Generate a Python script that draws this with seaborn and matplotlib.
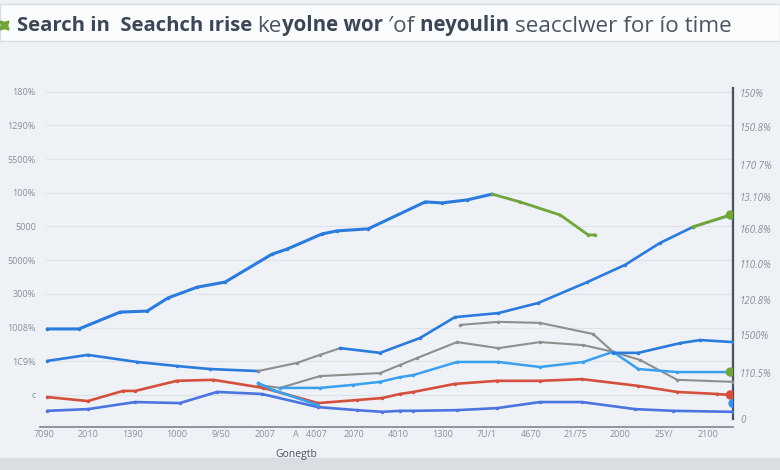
import matplotlib
matplotlib.use("Agg")
import matplotlib.pyplot as plt
import seaborn as sns

sns.set_style("white")
plt.rcParams["font.family"] = ["Open Sans", "DejaVu Sans"]

# ---- data ----
x_labels = ["7090", "2010", "1390", "1000", "9/50", "2007", "A   4007", "2070",
            "4010", "1300", "7U/1", "4670", "21/75", "2000", "25Y/", "2100"]
left_labels = ["c", "1C9%", "1008%", "300%", "5000%", "5000", "100%", "5500%", "1290%", "180%"]
right_ticks = [-0.71, 0.65, 1.78, 2.82, 3.89, 4.93, 5.88, 6.82, 7.95, 8.96]
right_labels = ["0", "110.5%", "1500%", "120.8%", "110.0%", "160.8%", "13.10%", "170 7%", "150.8%", "150%"]

main_x = [0.07, 0.79, 1.72, 2.33, 2.80, 3.46, 4.09, 5.15, 5.49, 6.28, 6.62, 7.32, 8.61, 8.99, 9.56, 10.12]
main_y = [1.96, 1.96, 2.46, 2.49, 2.88, 3.20, 3.35, 4.18, 4.33, 4.78, 4.87, 4.93, 5.73, 5.70, 5.79, 5.96]
green1_x = [10.12, 10.75, 11.66, 12.29, 12.45]
green1_y = [5.96, 5.73, 5.34, 4.75, 4.75]

blueA_x = [0.07, 0.99, 2.10, 3.00, 3.75, 4.83]
blueA_y = [1.01, 1.19, 0.98, 0.86, 0.77, 0.71]
gray1_x = [4.83, 5.71, 6.23, 6.69]
gray1_y = [0.71, 0.95, 1.19, 1.39]
blueB_x = [6.69, 7.59, 8.49, 9.28, 10.26, 11.16, 12.27, 13.12, 13.91, 14.66]
blueB_y = [1.39, 1.25, 1.69, 2.31, 2.43, 2.73, 3.35, 3.86, 4.51, 4.99]
green2_x = [14.66, 15.50]
green2_y = [4.99, 5.34]

gray2_x = [4.83, 5.33, 6.23, 7.59, 8.04, 8.43, 9.33, 10.26, 11.20, 12.18, 12.85]
gray2_y = [0.30, 0.21, 0.56, 0.65, 0.89, 1.10, 1.57, 1.39, 1.57, 1.48, 1.28]
gray3_x = [9.40, 10.26, 11.20, 12.40, 12.85, 13.46, 14.30, 15.56]
gray3_y = [2.08, 2.17, 2.14, 1.81, 1.28, 1.04, 0.45, 0.39]

light_x = [5.33, 6.23, 6.98, 7.59, 8.04, 8.34, 9.33, 10.26, 11.20, 12.18, 12.85, 13.42, 14.30, 15.43]
light_y = [0.21, 0.21, 0.30, 0.39, 0.53, 0.59, 0.98, 0.98, 0.83, 0.98, 1.28, 0.77, 0.68, 0.68]
blueC_x = [12.85, 13.42, 14.37, 14.82, 15.56]
blueC_y = [1.25, 1.25, 1.54, 1.63, 1.57]

red_x = [0.07, 0.99, 1.78, 2.06, 3.00, 3.82, 4.95, 6.19, 7.07, 7.64, 8.04, 8.34, 9.28,
         10.23, 11.20, 12.15, 13.42, 14.30, 15.20, 15.50]
red_y = [-0.06, -0.18, 0.12, 0.12, 0.42, 0.45, 0.21, -0.24, -0.15, -0.09, 0.03, 0.09, 0.33,
         0.42, 0.42, 0.47, 0.27, 0.09, 0.03, 0.0]

low_x = [0.07, 0.99, 2.06, 3.07, 3.91, 4.92, 6.19, 7.07, 7.64, 8.04, 8.34, 9.33, 10.23,
         11.20, 12.15, 13.35, 14.21, 15.56]
low_y = [-0.47, -0.42, -0.21, -0.24, 0.09, 0.03, -0.36, -0.45, -0.50, -0.47, -0.47, -0.45,
         -0.39, -0.21, -0.21, -0.42, -0.47, -0.50]

cross_x = [4.83, 5.17, 6.19]
cross_y = [0.36, 0.15, -0.30]

end_x = [15.50, 15.50, 15.50, 15.56]
end_y = [5.34, 0.68, 0.0, -0.25]
end_colors = ["#6fa53a", "#6fa53a", "#d5503c", "#3a8ff0"]

BLUE = "#2b7bdc"
LIGHT = "#3aa0ee"
LOWBLUE = "#4a74e0"
RED = "#d5503c"
GRAY = "#8e8e8e"
GREEN = "#6fa53a"

fig = plt.figure(figsize=(7.8, 4.7), dpi=100)
fig.patch.set_facecolor("#eef1f5")

# card shadow at the bottom
fig.add_artist(plt.Rectangle((0, 0), 1, 12 / 470, transform=fig.transFigure,
                             color="#dadde2", zorder=0))
# title bar
fig.add_artist(plt.Rectangle((0, 1 - 41 / 470), 1, 37 / 470, transform=fig.transFigure,
                             facecolor="#fbfcfd", edgecolor="#d8dde3", lw=1, zorder=1))

ax = fig.add_axes([40 / 780, 43 / 470, 693 / 780, 339 / 470])
ax.set_facecolor("#eef1f5")

series = [
    (main_x, main_y, BLUE, 2.2),
    (green1_x, green1_y, GREEN, 2.0),
    (blueA_x, blueA_y, BLUE, 1.9),
    (gray1_x, gray1_y, GRAY, 1.5),
    (blueB_x, blueB_y, BLUE, 1.9),
    (green2_x, green2_y, GREEN, 2.2),
    (gray2_x, gray2_y, GRAY, 1.5),
    (gray3_x, gray3_y, GRAY, 1.5),
    (light_x, light_y, LIGHT, 1.8),
    (blueC_x, blueC_y, BLUE, 1.9),
    (red_x, red_y, RED, 1.9),
    (low_x, low_y, LOWBLUE, 1.9),
    (cross_x, cross_y, LIGHT, 1.9),
]
for xs, ys, c, lw in series:
    sns.lineplot(x=xs, y=ys, ax=ax, color=c, linewidth=lw, sort=False, estimator=None,
                 marker="o", markersize=2.5, markeredgewidth=0, zorder=3)

sns.scatterplot(x=end_x, y=end_y, ax=ax, hue=list(range(len(end_x))), palette=end_colors,
                s=45, linewidth=0, legend=False, zorder=4)

ax.set_xlim(-0.09, 15.56)
ax.set_ylim(-0.95, 9.11)
ax.set_xticks(range(len(x_labels)))
ax.set_xticklabels(x_labels, fontsize=6.5, color="#8a9099")
ax.set_yticks(range(len(left_labels)))
ax.set_yticklabels(left_labels, fontsize=6.5, color="#8a9099")
ax.tick_params(length=0, pad=3)
ax.tick_params(axis="x", pad=2)
for yv in range(len(left_labels)):
    ax.axhline(yv, xmin=0.008, color="#dde2e8", lw=0.8, zorder=1)
ax.set_xlabel("Gonegtb", fontsize=7.5, color="#4a5563")
ax.xaxis.set_label_coords(0.37, -0.065)

for s in ["top", "left"]:
    ax.spines[s].set_visible(False)
ax.spines["bottom"].set_color("#7c8590")
ax.spines["bottom"].set_linewidth(1.2)
ax.spines["right"].set_color("#4a5260")
ax.spines["right"].set_linewidth(1.6)
ax.spines["right"].set_bounds(-0.7, 9.11)

ax2 = ax.twinx()
ax2.set_ylim(ax.get_ylim())
ax2.set_yticks(right_ticks)
ax2.set_yticklabels(right_labels, fontsize=7, color="#8a9099", style="italic")
ax2.tick_params(length=0, pad=5)
for s in ax2.spines.values():
    s.set_visible(False)

# title with mixed weights
parts = [("Search in  Seachch ırise ", "bold", "#3b4656", 14.6),
         ("ke", "normal", "#4a5563", 16.2),
         ("yolne wor ", "bold", "#3b4656", 14.8),
         ("′of ", "normal", "#4a5563", 16.2),
         ("neyoulin ", "bold", "#3b4656", 14.8),
         ("seacclwer for ío time", "normal", "#4a5563", 16.2)]
fig.canvas.draw()
r = fig.canvas.get_renderer()
xpos = 17 / 780
for s, w, c, fs in parts:
    t = fig.text(xpos, 1 - 26 / 470, s, fontsize=fs, fontweight=w, color=c, va="center",
                 ha="left")
    bb = t.get_window_extent(r)
    xpos = bb.x1 / fig.bbox.width

fig.add_artist(plt.Line2D([4 / 780], [1 - 25 / 470], marker=(4, 1, 45), markersize=9,
                          color=GREEN, transform=fig.transFigure))

fig.savefig("out.png", dpi=100, facecolor=fig.get_facecolor())
